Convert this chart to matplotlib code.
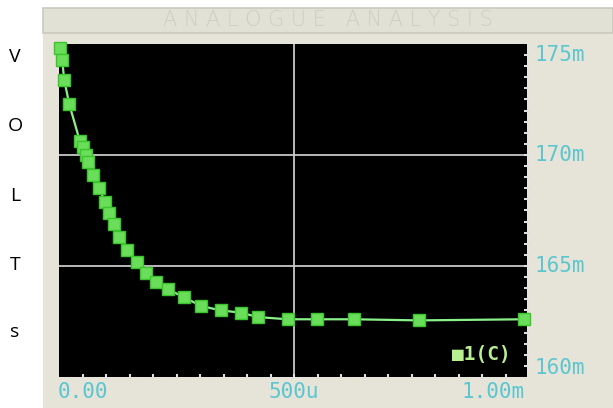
import matplotlib
matplotlib.use("Agg")
from matplotlib import pyplot as plt
from matplotlib.patches import Rectangle

# time (s) and voltage (V)
time_s = [2.5e-6, 6.7e-6, 11e-6, 21.7e-6, 44e-6, 50e-6, 57e-6, 61e-6, 73e-6, 86e-6,
          97e-6, 107e-6, 117e-6, 127e-6, 144e-6, 165e-6, 186e-6, 207e-6, 232e-6,
          265e-6, 302e-6, 344e-6, 386e-6, 423e-6, 486e-6, 548e-6, 627e-6, 765e-6, 988e-6]
volts = [174.82e-3, 174.3e-3, 173.4e-3, 172.3e-3, 170.65e-3, 170.36e-3, 169.98e-3,
         169.7e-3, 169.1e-3, 168.5e-3, 167.9e-3, 167.4e-3, 166.9e-3, 166.3e-3,
         165.7e-3, 165.2e-3, 164.7e-3, 164.3e-3, 163.95e-3, 163.6e-3, 163.2e-3,
         163.0e-3, 162.9e-3, 162.7e-3, 162.6e-3, 162.6e-3, 162.6e-3, 162.55e-3, 162.6e-3]

y_ticks = [160e-3, 165e-3, 170e-3, 175e-3]
y_labels = ["160m", "165m", "170m", "175m"]
x_labels = ["0.00", "500u", "1.00m"]
side_letters = ["V", "O", "L", "T", "s"]

W, H = 613, 408
fig = plt.figure(figsize=(W / 100, H / 100), dpi=100)
fig.patch.set_facecolor("white")

beige = "#e6e4d8"
cyan = "#5cc6d0"
mono = "DejaVu Sans Mono"

# panel background and title bar
fig.patches.append(Rectangle((43 / W, 0), 1 - 43 / W, 1 - 8 / H, transform=fig.transFigure,
                             facecolor=beige, edgecolor="none", zorder=-2))
fig.patches.append(Rectangle((43 / W, 1 - 33 / H), 1 - 43 / W, 25 / H, transform=fig.transFigure,
                             facecolor="#e2e1d6", edgecolor="#cac9be", linewidth=1.2, zorder=-1))
fig.add_artist(plt.Line2D([477 / W, 477 / W], [1 - 32 / H, 1 - 9 / H], transform=fig.transFigure,
                          color="#cac9be", linewidth=1.0, zorder=-1))
fig.text(328 / W, 1 - 20 / H, "A N A L O G U E   A N A L Y S I S", ha="center", va="center",
         fontsize=15, color="#cfcec3", family="DejaVu Sans", fontweight="light", zorder=-1)

ax = fig.add_axes([59 / W, 1 - 377 / H, (527 - 59) / W, (377 - 44) / H], zorder=2)
ax.set_facecolor("black")
ax.set_xlim(0, 0.995e-3)
ax.set_ylim(160e-3, 175e-3)

# grid lines
for yv in [165e-3, 170e-3]:
    ax.axhline(yv, color="#c8c8c8", linewidth=1.3, zorder=1)
ax.axvline(500e-6, color="#c8c8c8", linewidth=1.3, zorder=1)

ax.plot(time_s, volts, color="#8af08a", linewidth=1.6, marker="s", markersize=8,
        markerfacecolor="#6ade5a", markeredgecolor="#3cc42c", markeredgewidth=1.0,
        clip_on=False, zorder=3)

# inward ticks
ax.set_xticks([i * 50e-6 for i in range(1, 20)])
ax.set_xticklabels([])
ax.set_yticks([160e-3 + i * 0.5e-3 for i in range(1, 30)])
ax.set_yticklabels([])
ax.tick_params(axis="x", direction="inout", length=5, width=1.5, color="#e0e0e0", bottom=True)
ax.tick_params(axis="y", direction="inout", length=5, width=1.5, color="#e0e0e0",
               left=False, right=True)
for s in ax.spines.values():
    s.set_visible(False)

# value labels (end labels sit a little inside the frame, as on the scope)
label_nudge = {0: 0.027, 3: -0.033}
for i, (yv, lab) in enumerate(zip(y_ticks, y_labels)):
    ax.text(1.015, (yv - 160e-3) / 15e-3 + label_nudge.get(i, 0), lab, transform=ax.transAxes,
            ha="left", va="center", fontsize=15, color=cyan, family=mono)
ax.text(-0.004, -0.046, x_labels[0], transform=ax.transAxes, ha="left", va="center",
        fontsize=15, color=cyan, family=mono)
ax.text((500e-6) / 0.995e-3, -0.046, x_labels[1], transform=ax.transAxes, ha="center",
        va="center", fontsize=15, color=cyan, family=mono)
ax.text(0.995, -0.046, x_labels[2], transform=ax.transAxes, ha="right", va="center",
        fontsize=15, color=cyan, family=mono)

ax.text(0.965, 0.068, "\u25a01(C)", transform=ax.transAxes, ha="right", va="center",
        fontsize=14, color="#b8f090", family=mono, fontweight="bold")

# vertical axis caption
for letter, yp in zip(side_letters, [57, 126, 196, 265, 332]):
    fig.text(15 / W, 1 - yp / H, letter, ha="center", va="center", fontsize=14,
             color="black", family="Open Sans")

fig.savefig("out.png", dpi=100, facecolor=fig.get_facecolor())
